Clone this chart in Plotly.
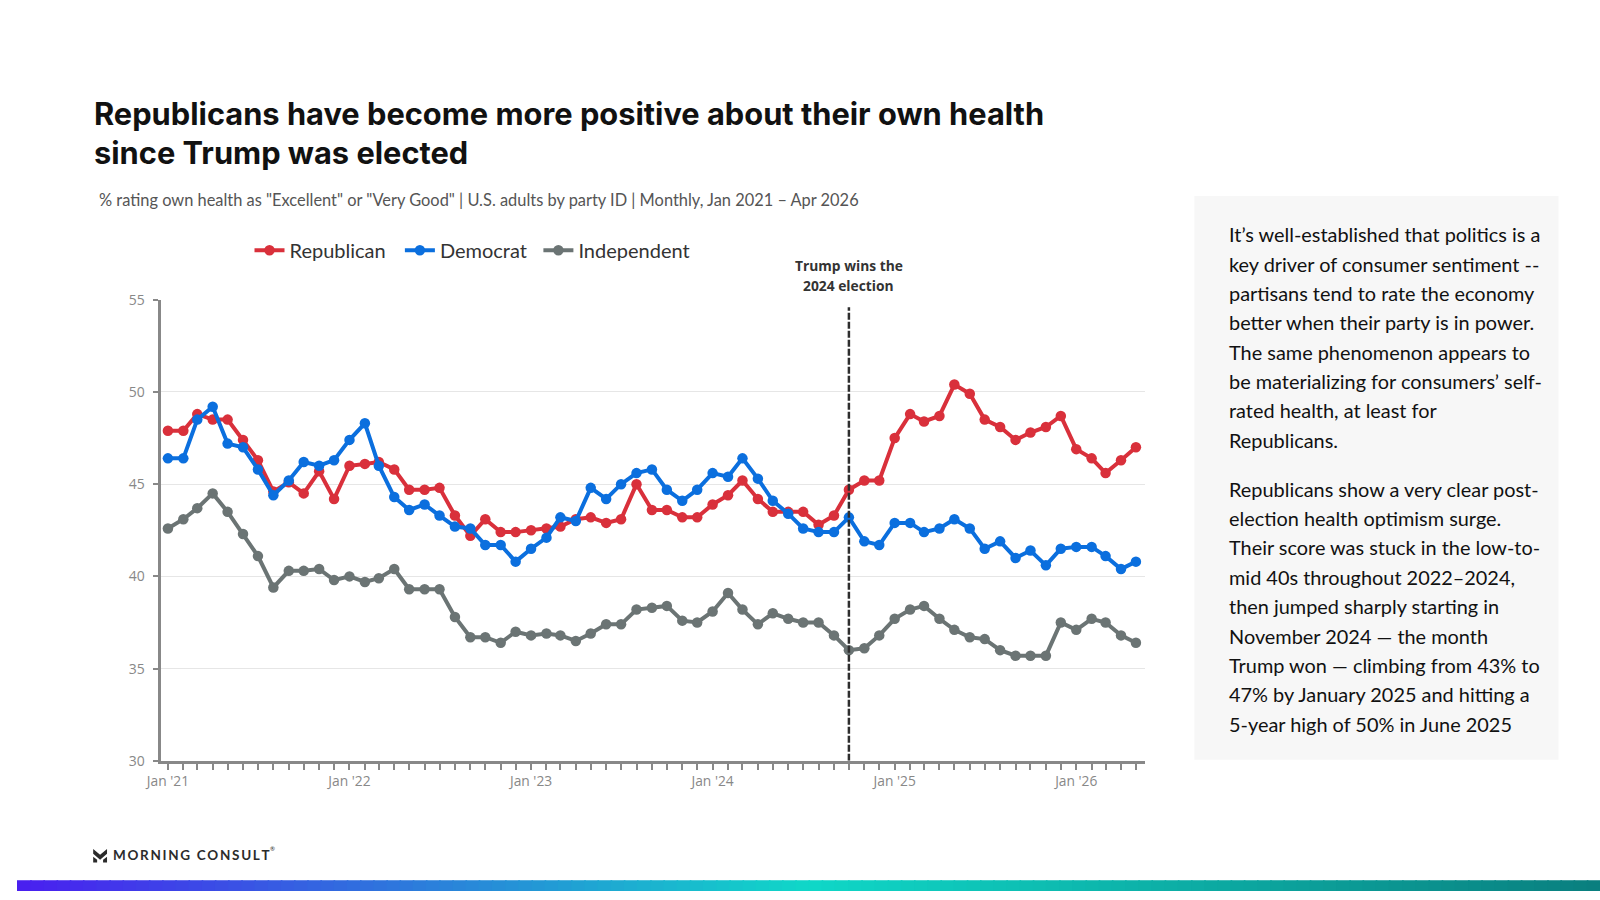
import pandas as pd
import plotly.graph_objects as go

# monthly readings, Jan 2021 onwards (65 points as drawn in the chart)
months = pd.date_range("2021-01-01", periods=65, freq="MS")

republican = [
    47.9, 47.9, 48.8, 48.5, 48.5, 47.4, 46.3, 44.6, 45.1, 44.5, 45.7, 44.2,
    46.0, 46.1, 46.2, 45.8, 44.7, 44.7, 44.8, 43.3, 42.2, 43.1, 42.4, 42.4,
    42.5, 42.6, 42.7, 43.1, 43.2, 42.9, 43.1, 45.0, 43.6, 43.6, 43.2, 43.2,
    43.9, 44.4, 45.2, 44.2, 43.5, 43.5, 43.5, 42.8, 43.3, 44.7, 45.2, 45.2,
    47.5, 48.8, 48.4, 48.7, 50.4, 49.9, 48.5, 48.1, 47.4, 47.8, 48.1, 48.7,
    46.9, 46.4, 45.6, 46.3, 47.0,
]
democrat = [
    46.4, 46.4, 48.5, 49.2, 47.2, 47.0, 45.8, 44.4, 45.2, 46.2, 46.0, 46.3,
    47.4, 48.3, 46.0, 44.3, 43.6, 43.9, 43.3, 42.7, 42.6, 41.7, 41.7, 40.8,
    41.5, 42.1, 43.2, 43.0, 44.8, 44.2, 45.0, 45.6, 45.8, 44.7, 44.1, 44.7,
    45.6, 45.4, 46.4, 45.3, 44.1, 43.4, 42.6, 42.4, 42.4, 43.2, 41.9, 41.7,
    42.9, 42.9, 42.4, 42.6, 43.1, 42.6, 41.5, 41.9, 41.0, 41.4, 40.6, 41.5,
    41.6, 41.6, 41.1, 40.4, 40.8,
]
independent = [
    42.6, 43.1, 43.7, 44.5, 43.5, 42.3, 41.1, 39.4, 40.3, 40.3, 40.4, 39.8,
    40.0, 39.7, 39.9, 40.4, 39.3, 39.3, 39.3, 37.8, 36.7, 36.7, 36.4, 37.0,
    36.8, 36.9, 36.8, 36.5, 36.9, 37.4, 37.4, 38.2, 38.3, 38.4, 37.6, 37.5,
    38.1, 39.1, 38.2, 37.4, 38.0, 37.7, 37.5, 37.5, 36.8, 36.0, 36.1, 36.8,
    37.7, 38.2, 38.4, 37.7, 37.1, 36.7, 36.6, 36.0, 35.7, 35.7, 35.7, 37.5,
    37.1, 37.7, 37.5, 36.8, 36.4,
]
series = [
    ("Republican", republican, "#d9303b"),
    ("Democrat", democrat, "#0b6fde"),
    ("Independent", independent, "#6b7474"),
]
y_ticks = [30, 35, 40, 45, 50, 55]
election_month = "2024-10-01"

panel_p1 = [
    "It\u2019s well-established that politics is a",
    "key driver of consumer sentiment --",
    "partisans tend to rate the economy",
    "better when their party is in power.",
    "The same phenomenon appears to",
    "be materializing for consumers\u2019 self-",
    "rated health, at least for",
    "Republicans.",
]
panel_p2 = [
    "Republicans show a very clear post-",
    "election health optimism surge.",
    "Their score was stuck in the low-to-",
    "mid 40s throughout 2022\u20132024,",
    "then jumped sharply starting in",
    "November 2024 \u2014 the month",
    "Trump won \u2014 climbing from 43% to",
    "47% by January 2025 and hitting a",
    "5-year high of 50% in June 2025",
]

W, H = 1600, 900


def px(x):
    return x / W


def py(y):
    return 1 - y / H


fig = go.Figure()

# one legend box per series so the gaps can follow the original
legend_ids = ["legend", "legend2", "legend3"]
legend_left = [235, 387, 527]

for (name, vals, col), lid in zip(series, legend_ids):
    fig.add_trace(go.Scatter(
        x=months, y=vals, name=name, mode="lines+markers",
        line=dict(color=col, width=4),
        marker=dict(color=col, size=10.5),
        legend=lid,
    ))

# election marker
fig.add_shape(type="line", xref="x", yref="y",
              x0=election_month, x1=election_month, y0=30, y1=54.6,
              line=dict(color="#2e2e2e", width=2.5, dash="7px,2px"), layer="above")
for i, line in enumerate(["Trump wins the", "2024 election"]):
    fig.add_annotation(x=election_month, xref="x", y=py(261 + 20 * i), yref="paper",
                       yanchor="middle", showarrow=False, text=f"<b>{line}</b>",
                       font=dict(size=13.8, color="#333333", family="Open Sans"))

# right side panel
fig.add_shape(type="rect", xref="paper", yref="paper",
              x0=px(1190), x1=px(1558), y0=py(766), y1=py(190),
              fillcolor="#f7f7f7", line=dict(width=0), layer="below")
for i, line in enumerate(panel_p1):
    fig.add_annotation(x=px(1223), y=py(229 + 30 * i), xref="paper", yref="paper",
                       xanchor="left", yanchor="middle", showarrow=False,
                       text=line, font=dict(size=19.9, color="#111111", family="Lato"))
for i, line in enumerate(panel_p2):
    fig.add_annotation(x=px(1223), y=py(489 + 30 * i), xref="paper", yref="paper",
                       xanchor="left", yanchor="middle", showarrow=False,
                       text=line, font=dict(size=19.9, color="#111111", family="Lato"))

# title + subtitle
fig.add_annotation(x=px(76), y=py(106), xref="paper", yref="paper",
                   xanchor="left", yanchor="middle", showarrow=False,
                   text="<b>Republicans have become more positive about their own health</b>",
                   font=dict(size=30.8, color="#111111", family="Inter"))
fig.add_annotation(x=px(76), y=py(146), xref="paper", yref="paper",
                   xanchor="left", yanchor="middle", showarrow=False,
                   text="<b>since Trump was elected</b>",
                   font=dict(size=30.8, color="#111111", family="Inter"))
fig.add_annotation(x=px(81), y=py(194), xref="paper", yref="paper",
                   xanchor="left", yanchor="middle", showarrow=False,
                   text='% rating own health as "Excellent" or "Very Good" | U.S. adults by party ID | Monthly, Jan 2021 \u2013 Apr 2026',
                   font=dict(size=16.4, color="#555555", family="Lato"))

# logo
fig.add_shape(type="path", xref="paper", yref="paper",
              path=(f"M {px(77)},{py(857)} L {px(84)},{py(863)} L {px(91)},{py(857)} "
                    f"L {px(91)},{py(862)} L {px(84)},{py(868)} L {px(77)},{py(862)} Z"),
              fillcolor="#2b2b2b", line=dict(width=0))
fig.add_shape(type="path", xref="paper", yref="paper",
              path=(f"M {px(77)},{py(865)} L {px(81)},{py(868)} L {px(81)},{py(871)} L {px(77)},{py(871)} Z "
                    f"M {px(91)},{py(865)} L {px(87)},{py(868)} L {px(87)},{py(871)} L {px(91)},{py(871)} Z"),
              fillcolor="#2b2b2b", line=dict(width=0))
fig.add_annotation(x=px(95), y=py(863), xref="paper", yref="paper",
                   xanchor="left", yanchor="middle", showarrow=False,
                   text="<b>" + "\u2009".join("MORNING CONSULT") + "</b>",
                   font=dict(size=13.5, color="#2b2b2b", family="Lato"))
fig.add_annotation(x=px(254), y=py(857), xref="paper", yref="paper",
                   xanchor="left", yanchor="middle", showarrow=False,
                   text="\u00ae", font=dict(size=6, color="#2b2b2b", family="Lato"))

# gradient strip at the bottom
stops = [(0.0, (74, 31, 240)), (0.5, (16, 216, 200)), (1.0, (10, 127, 127))]
n = 120
for k in range(n):
    t = (k + 0.5) / n
    if t <= 0.5:
        a, b, f = stops[0][1], stops[1][1], t / 0.5
    else:
        a, b, f = stops[1][1], stops[2][1], (t - 0.5) / 0.5
    c = tuple(int(a[j] + (b[j] - a[j]) * f) for j in range(3))
    fig.add_shape(type="rect", xref="paper", yref="paper",
                  x0=k / n, x1=(k + 1) / n + 0.001, y0=0, y1=py(889),
                  fillcolor=f"rgb{c}", line=dict(width=0))

legend_style = dict(
    orientation="h", y=py(245.5), xanchor="left", yanchor="middle",
    font=dict(size=20, color="#333333", family="Lato"), bgcolor="rgba(0,0,0,0)",
    itemwidth=30,
)
fig.update_layout(
    width=W, height=H,
    margin=dict(l=0, r=0, t=0, b=0),
    paper_bgcolor="white", plot_bgcolor="white",
    font=dict(family="Lato", color="#333333"),
    showlegend=True,
    hovermode=False,
)
for lid, lx in zip(legend_ids, legend_left):
    fig.update_layout({lid: dict(legend_style, x=px(lx))})

fig.update_xaxes(
    domain=[px(146), px(1140)],
    range=["2020-12-19", "2026-05-19"],
    type="date", tick0="2021-01-01", dtick="M12", tickformat="%b '%y",
    ticks="outside", ticklen=6, tickcolor="#888888", tickwidth=2,
    minor=dict(dtick="M1", ticks="outside", ticklen=6, tickcolor="#888888", tickwidth=2),
    showline=True, linecolor="#888888", linewidth=3,
    showgrid=False, zeroline=False,
    tickfont=dict(size=13.8, color="#888888", family="Open Sans"),
)
fig.update_yaxes(
    domain=[py(767), py(296)],
    range=[30, 55], tickvals=y_ticks,
    ticks="outside", ticklen=5, tickcolor="#888888", tickwidth=2,
    ticklabelstandoff=6,
    showline=True, linecolor="#888888", linewidth=3,
    showgrid=True, gridcolor="#e6e6e6", gridwidth=1, zeroline=False,
    tickfont=dict(size=14, color="#888888", family="Open Sans"),
)

# pin the figure to the top-left corner of the window
pin_page = (
    "document.documentElement.style.margin='0';"
    "document.body.style.margin='0';"
    "document.body.style.overflow='hidden';"
    "var g=document.querySelector('.plotly-graph-div');"
    "g.style.position='fixed';g.style.left='0px';g.style.top='0px';"
)
fig.write_html("out.html", config=dict(displayModeBar=False), post_script=pin_page)
